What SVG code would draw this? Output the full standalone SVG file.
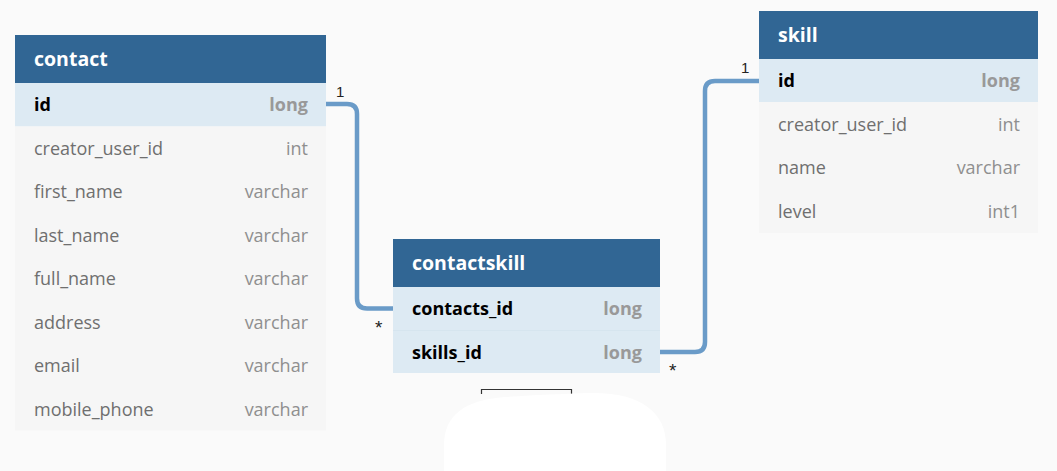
<svg xmlns="http://www.w3.org/2000/svg" width="1057" height="471" viewBox="0 0 1057 471">
<defs>
<style>
text{font-family:"Open Sans","Noto Sans","Liberation Sans",sans-serif;font-size:18px}
.hdr{fill:#316694}
.title{fill:#ffffff;font-weight:bold;font-size:19.5px}
.pk{fill:#ddeaf3}
.row{fill:#f6f6f6}
.fn{fill:#000000;font-weight:bold}
.ft{fill:#999999;font-weight:bold;text-anchor:end}
.n{fill:#6f6f6f}
.t{fill:#8f8f8f;text-anchor:end}
.conn{fill:none;stroke:#6a9bc8;stroke-width:4.5}
.card{fill:#222222;font-size:15px;font-family:"Liberation Sans",Arial,sans-serif}
.star{fill:#222222;font-size:19px;font-family:"Liberation Sans",Arial,sans-serif}
</style>
</defs>
<rect width="1057" height="471" fill="#fafafa"/>

<g id="connectors">
<path class="conn" d="M325,104 H347 Q357,104 357,114 V298.5 Q357,308.5 367,308.5 H393"/>
<path class="conn" d="M660,352 H695 Q705,352 705,342 V91 Q705,81 715,81 H759"/>
<text class="card" x="336" y="97">1</text>
<text class="star" x="375" y="334">*</text>
<text class="card" x="741" y="73">1</text>
<text class="star" x="669" y="377">*</text>
</g>

<g id="contact">
<rect class="hdr" x="15" y="35" width="311" height="48"/>
<text class="title" x="34" y="66">contact</text>
<rect class="pk" x="15" y="83" width="311" height="43.5"/>
<text class="fn" x="34" y="111">id</text><text class="ft" x="308" y="111">long</text>
<rect class="row" x="15" y="126.5" width="311" height="304"/>
<text class="n" x="34" y="155">creator_user_id</text><text class="t" x="308" y="155">int</text>
<text class="n" x="34" y="198">first_name</text><text class="t" x="308" y="198">varchar</text>
<text class="n" x="34" y="242">last_name</text><text class="t" x="308" y="242">varchar</text>
<text class="n" x="34" y="285">full_name</text><text class="t" x="308" y="285">varchar</text>
<text class="n" x="34" y="329">address</text><text class="t" x="308" y="329">varchar</text>
<text class="n" x="34" y="372">email</text><text class="t" x="308" y="372">varchar</text>
<text class="n" x="34" y="416">mobile_phone</text><text class="t" x="308" y="416">varchar</text>
</g>

<g id="contactskill">
<rect class="hdr" x="393" y="239" width="267" height="48"/>
<text class="title" x="412" y="270">contactskill</text>
<rect class="pk" x="393" y="287" width="267" height="86"/>
<line x1="393" y1="330.5" x2="660" y2="330.5" stroke="#d6e5ef" stroke-width="1"/>
<text class="fn" x="412" y="315">contacts_id</text><text class="ft" x="642" y="315">long</text>
<text class="fn" x="412" y="359">skills_id</text><text class="ft" x="642" y="359">long</text>
</g>

<g id="skill">
<rect class="hdr" x="759" y="11" width="279" height="48"/>
<text class="title" x="778" y="42">skill</text>
<rect class="pk" x="759" y="59" width="279" height="43"/>
<text class="fn" x="778" y="87">id</text><text class="ft" x="1020" y="87">long</text>
<rect class="row" x="759" y="102" width="279" height="131"/>
<text class="n" x="778" y="131">creator_user_id</text><text class="t" x="1020" y="131">int</text>
<text class="n" x="778" y="174">name</text><text class="t" x="1020" y="174">varchar</text>
<text class="n" x="778" y="218">level</text><text class="t" x="1020" y="218">int1</text>
</g>

<path d="M481.5,394 V389.5 H571.5 V394" fill="none" stroke="#333333" stroke-width="1.2"/>
<path d="M444,445 C444,415 465,400 505,397 C535,395 560,394 590,393 C640,392 666,412 666,445 V471 H444 Z" fill="#ffffff"/>
</svg>
